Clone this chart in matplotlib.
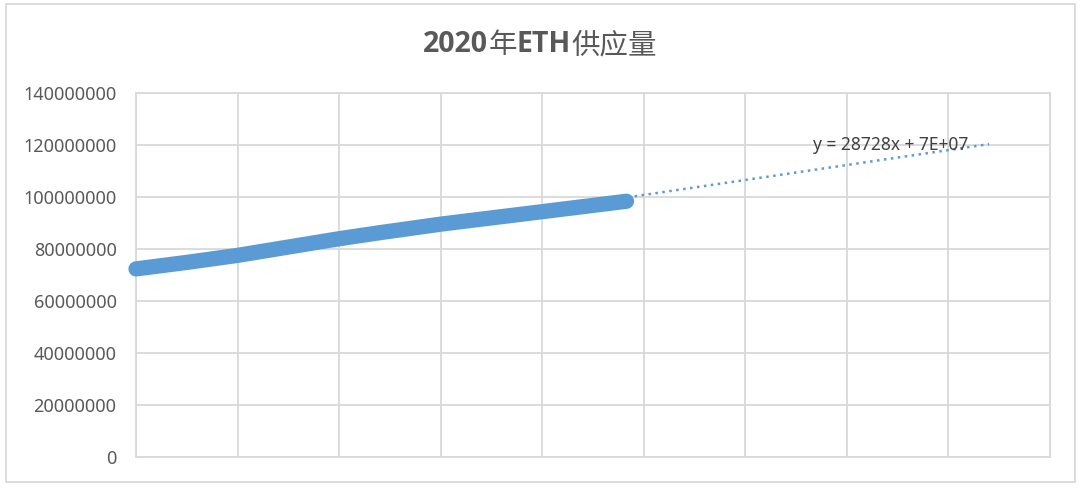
import matplotlib
matplotlib.use("Agg")
import matplotlib.pyplot as plt
import numpy as np
from matplotlib.patches import Rectangle

# values (y in ETH)
day = [0, 100, 200, 300, 400, 483, 600, 700, 800, 966]
supply = [72.4e6, 74.9e6, 77.6e6, 80.8e6, 84.0e6, 86.4e6, 89.6e6, 92.0e6, 94.4e6, 98.4e6]

trend_slope = 28728
trend_intercept = 7.21e7
trend_end = 1680
trend_label = "y = 28728x + 7E+07"
# title pieces: latin parts bold, CJK parts regular (as in the original)
title_parts = [("2020", "bold"), ("年", "normal"), ("ETH", "bold"), ("供应量", "normal")]

yticks = [0, 20000000, 40000000, 60000000, 80000000, 100000000, 120000000, 140000000]
xticks = [0, 200, 400, 600, 800, 1000, 1200, 1400, 1600, 1800]

blue = "#5b9bd5"
grid_c = "#d9d9d9"
text_c = "#595959"

plt.rcParams['font.family'] = ['Noto Sans', 'Noto Sans CJK SC', 'DejaVu Sans']

fig = plt.figure(figsize=(10.8, 4.9), dpi=100)
ax = fig.add_axes([136/1080, 1-457.3/490, 914/1080, 364.3/490])

# outer chart border
fig.patches.append(Rectangle((6/1080, 8/490), 1069/1080, 478/490, transform=fig.transFigure,
                             fill=False, edgecolor=grid_c, linewidth=1.3))

# trendline (linear fit, forecast forward)
tx = np.array([day[0], trend_end])
ax.plot(tx, trend_slope*tx + trend_intercept, color=blue, linewidth=1.8,
        linestyle=(0, (1, 1.8)), zorder=2)

# data series (dense markers -> thick line)
ax.plot(day, supply, color=blue, linewidth=11, solid_capstyle='round',
        solid_joinstyle='round', zorder=3, clip_on=False)

ax.text(1486, 120e6, trend_label, ha='center', va='center', fontsize=12.5, color="#404040", zorder=4)

ax.set_xlim(xticks[0], xticks[-1])
ax.set_ylim(yticks[0], yticks[-1])
ax.set_xticks(xticks)
ax.set_yticks(yticks)
ax.set_xticklabels([])
ax.set_yticklabels([str(t) for t in yticks])
ax.tick_params(axis='both', length=0, labelsize=13, labelcolor=text_c)
ax.tick_params(axis='y', pad=14)
ax.grid(color=grid_c, linewidth=1.3)
ax.set_axisbelow(True)
for s in ax.spines.values():
    s.set_color(grid_c)
    s.set_linewidth(1.3)

# title built from pieces, then centred
pieces = []
for s, w in title_parts:
    fam = ['Open Sans', 'Noto Sans CJK SC'] if w == "bold" else ['Noto Sans CJK SC']
    pieces.append(fig.text(0, 1-45/490, s, ha='left', va='center', fontsize=20.5,
                           fontweight=w, color=text_c, family=fam))
fig.canvas.draw()
r = fig.canvas.get_renderer()
widths = [p.get_window_extent(r).width for p in pieces]
x0 = 540 - sum(widths)/2
for p, w in zip(pieces, widths):
    p.set_x(x0/1080)
    x0 += w

fig.savefig("out.png", dpi=100)
